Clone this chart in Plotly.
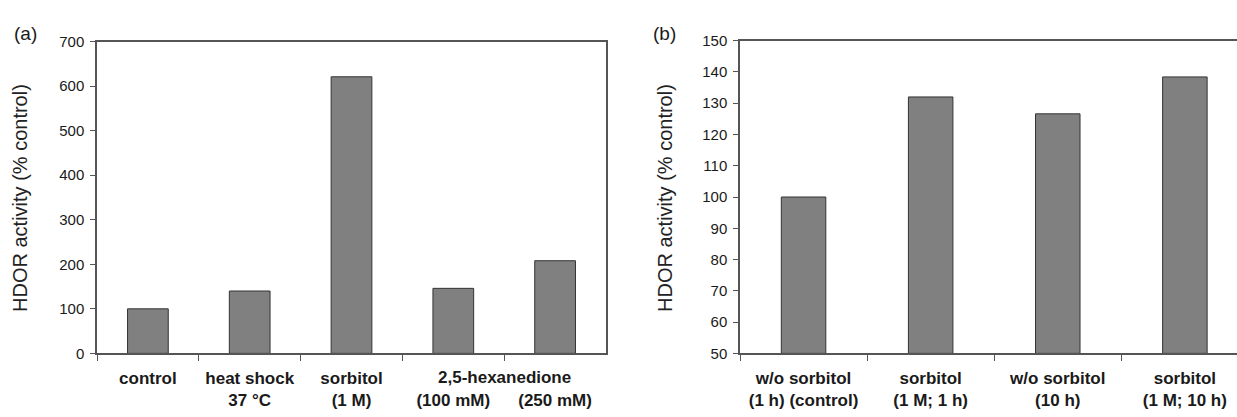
import plotly.graph_objects as go

# Panel (a)
cats_a = ["control", "heat shock<br>37 °C", "sorbitol<br>(1 M)", "<br>(100 mM)", "<br>(250 mM)"]
vals_a = [100, 140, 621, 146, 208]
group_label_a = "2,5-hexanedione"
yticks_a = [0, 100, 200, 300, 400, 500, 600, 700]

# Panel (b)
cats_b = ["w/o sorbitol<br>(1 h) (control)", "sorbitol<br>(1 M; 1 h)", "w/o sorbitol<br>(10 h)", "sorbitol<br>(1 M; 10 h)"]
vals_b = [100, 132, 126.6, 138.4]
base_b = 50
yticks_b = [50, 60, 70, 80, 90, 100, 110, 120, 130, 140, 150]

W, H = 1237, 417
FONT = "Liberation Sans, Arial, sans-serif"
AX = "#555555"
TXT = "#1a1a1a"

fig = go.Figure()
fig.add_trace(go.Bar(x=cats_a, y=vals_a, xaxis="x", yaxis="y", width=0.4,
                     marker=dict(color="#808080", line=dict(color="#333333", width=1))))
fig.add_trace(go.Bar(x=cats_b, y=[v - base_b for v in vals_b], base=[base_b] * len(vals_b),
                     xaxis="x2", yaxis="y2", width=0.35,
                     marker=dict(color="#808080", line=dict(color="#333333", width=1))))

xa = dict(showline=True, linecolor=AX, linewidth=1.5, ticks="outside", ticklen=6,
          tickcolor=AX, tickson="boundaries", showgrid=False, zeroline=False,
          tickfont=dict(family=FONT, size=17, color=TXT, weight="bold"), tickangle=0,
          ticklabelstandoff=8, fixedrange=True)
ya = dict(showline=True, linecolor=AX, linewidth=1.5, ticks="outside", ticklen=5,
          tickcolor=AX, showgrid=False, zeroline=False, ticklabelstandoff=3,
          tickfont=dict(family=FONT, size=15, color=TXT), fixedrange=True)

x0a, x1a = 97 / W, 606 / W
x0b = 740 / W
yb0, yt0 = (H - 359) / H, (H - 34) / H

fig.update_layout(
    width=W, height=H, margin=dict(l=0, r=0, t=0, b=0),
    paper_bgcolor="white", plot_bgcolor="white", showlegend=False,
    xaxis=dict(xa, domain=[x0a, x1a], anchor="y", mirror=True, range=[-0.5, 4.5]),
    yaxis=dict(ya, domain=[yb0, yt0], anchor="x", mirror=True, range=[0, 700],
               tickvals=yticks_a),
    xaxis2=dict(xa, domain=[x0b, 1], anchor="y2", mirror=True, range=[-0.5, 3.41]),
    yaxis2=dict(ya, domain=[yb0, (H - 33) / H], anchor="x2", mirror=False, range=[50, 150],
                tickvals=yticks_b),
)

ann = []
for lbl, px in (("(a)", 25), ("(b)", 664)):
    ann.append(dict(text=lbl, x=px / W, y=(H - 26) / H, xref="paper", yref="paper",
                    showarrow=False, font=dict(family=FONT, size=19, color=TXT),
                    xanchor="center", yanchor="middle"))
for px in (20, 665):
    ann.append(dict(text="HDOR activity (% control)", textangle=-90, x=px / W,
                    y=(H - 197) / H, xref="paper", yref="paper", showarrow=False,
                    font=dict(family=FONT, size=20, color="#222222"),
                    xanchor="center", yanchor="middle"))
ann.append(dict(text="<b>" + group_label_a + "</b>", x=3.5, y=(H - 384) / H, xref="x",
                yref="paper", showarrow=False,
                font=dict(family=FONT, size=17, color=TXT),
                xanchor="center", yanchor="middle"))
fig.update_layout(annotations=ann)

fig.write_html("out.html")
